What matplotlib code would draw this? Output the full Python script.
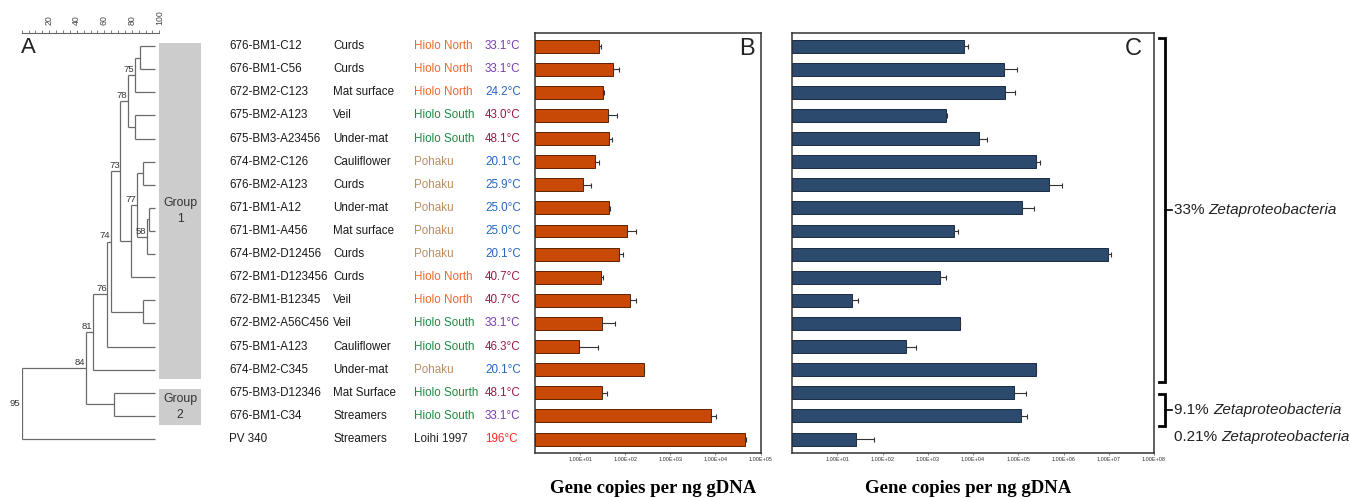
import numpy as np
import matplotlib
matplotlib.use('Agg')
import matplotlib.pyplot as plt
from matplotlib import transforms
from matplotlib.patches import Rectangle
from matplotlib.ticker import FixedLocator, MultipleLocator, FuncFormatter, NullLocator

plt.rcParams['font.family'] = ['Liberation Sans', 'DejaVu Sans']

# ---------------- data ----------------
samples = ['676-BM1-C12', '676-BM1-C56', '672-BM2-C123', '675-BM2-A123', '675-BM3-A23456',
           '674-BM2-C126', '676-BM2-A123', '671-BM1-A12', '671-BM1-A456', '674-BM2-D12456',
           '672-BM1-D123456', '672-BM1-B12345', '672-BM2-A56C456', '675-BM1-A123', '674-BM2-C345',
           '675-BM3-D12346', '676-BM1-C34', 'PV 340']
materials = ['Curds', 'Curds', 'Mat surface', 'Veil', 'Under-mat', 'Cauliflower', 'Curds',
             'Under-mat', 'Mat surface', 'Curds', 'Curds', 'Veil', 'Veil', 'Cauliflower',
             'Under-mat', 'Mat Surface', 'Streamers', 'Streamers']
locations = ['Hiolo North', 'Hiolo North', 'Hiolo North', 'Hiolo South', 'Hiolo South', 'Pohaku',
             'Pohaku', 'Pohaku', 'Pohaku', 'Pohaku', 'Hiolo North', 'Hiolo North', 'Hiolo South',
             'Hiolo South', 'Pohaku', 'Hiolo Sourth', 'Hiolo South', 'Loihi 1997']
temps = ['33.1°C', '33.1°C', '24.2°C', '43.0°C', '48.1°C', '20.1°C', '25.9°C', '25.0°C',
         '25.0°C', '20.1°C', '40.7°C', '40.7°C', '33.1°C', '46.3°C', '20.1°C', '48.1°C',
         '33.1°C', '196°C']

# Panel B (gene copies per ng gDNA) mean and upper error
b_mean = [25.7, 55, 31.6, 40.7, 43.7, 21.9, 11.5, 43.7, 110, 74, 29.5, 129, 30.2, 9.3,
          263, 30.9, 7943, 44668]
b_err = [3.1, 19, 2.3, 24, 6.4, 4.4, 6.3, 3.1, 64, 15, 2.1, 45, 30, 15.8, 2, 8, 2300, 2100]

# Panel C
c_mean = [6310, 48978, 51286, 2512, 13490, 245470, 467735, 120226, 3715, 9.77e6, 1820, 21.4,
          5129, 331, 245470, 79433, 117490, 25.7]
c_err = [1630, 46500, 31900, 120, 6900, 63600, 444000, 103600, 960, 1.7e6, 690, 6.8, 120,
         206, 0, 68500, 41000, 39]

b_ticks = [1e1, 1e2, 1e3, 1e4, 1e5]
c_ticks = [1e1, 1e2, 1e3, 1e4, 1e5, 1e6, 1e7, 1e8]

# Dendrogram: (node, child1, child2, similarity %, bootstrap label); ints = leaf rows
leaf_similarity = 97
dendro_nodes = [
    ('H', 7, 8, 92.7, ''),
    ('A', 0, 1, 86.0, ''),
    ('B', 'A', 2, 82.3, '75'),
    ('P', 3, 4, 82.3, ''),
    ('C', 'B', 'P', 77.0, '78'),
    ('I', 5, 6, 88.4, ''),
    ('G', 'H', 9, 90.8, '58'),
    ('F', 'I', 'G', 84.0, '77'),
    ('E', 'F', 10, 79.2, ''),
    ('D', 'C', 'E', 71.8, '73'),
    ('L', 11, 12, 87.9, ''),
    ('J', 'D', 'L', 64.7, '74'),
    ('K', 'J', 13, 62.3, '76'),
    ('M', 'K', 14, 52.0, '81'),
    ('O', 15, 16, 67.3, ''),
    ('N', 'M', 'O', 46.7, '84'),
    ('R', 'N', 17, 0.0, '95'),
]
scale_ticks = [20, 40, 60, 80, 100]

groups = [('Group\n1', 0, 14), ('Group\n2', 15, 16)]
brackets = [('33% ', 0, 14), ('9.1% ', 15, 16)]
single_note = ('0.21% ', 17)

# ---------------- styling ----------------
loc_colors = {'Hiolo North': '#F0692A', 'Hiolo South': '#1E8A40', 'Hiolo Sourth': '#1E8A40',
              'Pohaku': '#BC8E5E', 'Loihi 1997': '#222222'}
temp_colors = {'33.1°C': '#7A3DB0', '24.2°C': '#2566C2', '43.0°C': '#9A1C44',
               '48.1°C': '#9A1C44', '20.1°C': '#2566C2', '25.9°C': '#2566C2',
               '25.0°C': '#2566C2', '40.7°C': '#9A1C44', '46.3°C': '#9A1C44',
               '196°C': '#FF2A2A'}

W, H = 1350, 498
fig = plt.figure(figsize=(W / 100, H / 100), dpi=100)


def px_axes(x0, x1, y0, y1):
    return fig.add_axes([x0 / W, 1 - y1 / H, (x1 - x0) / W, (y1 - y0) / H])


n = len(samples)
rows = np.arange(n)
ylim = (n - 1 + 0.59, -0.58)

axA = px_axes(21.7, 159.3, 32.7, 452.7)
axB = px_axes(535, 760.5, 32.7, 452.7)
axC = px_axes(792, 1154, 32.7, 452.7)

# ---------------- dendrogram ----------------
pos = {}
for i in range(n):
    pos[i] = (leaf_similarity, float(i))
line_kw = dict(color='#6a6a6a', lw=0.9, solid_capstyle='butt')
for name, c1, c2, sim, lbl in dendro_nodes:
    x1, y1 = pos[c1]
    x2, y2 = pos[c2]
    axA.plot([sim, sim], [y1, y2], **line_kw)
    axA.plot([sim, x1], [y1, y1], **line_kw)
    axA.plot([sim, x2], [y2, y2], **line_kw)
    ym = (y1 + y2) / 2
    pos[name] = (sim, ym)
    if lbl:
        if name == 'R':
            axA.text(sim - 1.5, ym, lbl, ha='right', va='center', fontsize=6.8, color='#333333')
        else:
            axA.text(sim - 0.6, ym - 0.05, lbl, ha='right', va='bottom', fontsize=6.8,
                     color='#333333')

axA.set_xlim(0, 100)
axA.set_ylim(*ylim)
for s in ['left', 'right', 'bottom']:
    axA.spines[s].set_visible(False)
axA.spines['top'].set_color('#666666')
axA.spines['top'].set_linewidth(0.8)
axA.xaxis.set_ticks_position('top')
axA.xaxis.set_major_locator(FixedLocator(scale_ticks))
axA.xaxis.set_minor_locator(MultipleLocator(5))
axA.tick_params(axis='x', which='both', direction='out', length=2.2, width=0.6,
                color='#666666', labelsize=6.3, labelcolor='#444444', pad=3.5,
                labelrotation=90)
axA.set_yticks([])
axA.patch.set_visible(False)
axA.text(-0.5, 0.05, 'A', fontsize=16, color='#222222', ha='left', va='center')

for label, r0, r1 in groups:
    axA.add_patch(Rectangle((100, r0 - 0.15), 30.3, (r1 - r0) + 0.55, facecolor='#CCCCCC',
                            edgecolor='none', clip_on=False))
    axA.text(115.2, (r0 + r1) / 2 + 0.12, label, ha='center', va='center', fontsize=8.8,
             color='#333333', linespacing=1.45, clip_on=False)

# ---------------- text columns ----------------
tr = transforms.blended_transform_factory(fig.transFigure, axB.transData)
fs = 8.4
for i in range(n):
    fig.text(229 / W, i, samples[i], transform=tr, ha='left', va='center', fontsize=fs,
             color='#1a1a1a')
    fig.text(333 / W, i, materials[i], transform=tr, ha='left', va='center', fontsize=fs,
             color='#1a1a1a')
    fig.text(414 / W, i, locations[i], transform=tr, ha='left', va='center', fontsize=fs,
             color=loc_colors[locations[i]])
    fig.text(485 / W, i, temps[i], transform=tr, ha='left', va='center', fontsize=fs,
             color=temp_colors[temps[i]])


# ---------------- bar panels ----------------
def fmt(v, p):
    e = int(round(np.log10(v)))
    return '1.00E+%02d' % e


def bar_panel(ax, mean, err, color, edge, ticks, xmax, letter, letter_x):
    mean = np.asarray(mean, float)
    err = np.asarray(err, float)
    ax.set_xscale('log')
    ax.barh(rows, mean - 1, left=1, height=0.56, color=color, edgecolor=edge, linewidth=0.7,
            xerr=[np.zeros(n), err],
            error_kw=dict(ecolor='#333333', elinewidth=0.8, capsize=1.8, capthick=0.8))
    ax.set_xlim(1, xmax)
    ax.set_ylim(*ylim)
    ax.set_yticks([])
    ax.xaxis.set_major_locator(FixedLocator(ticks))
    ax.xaxis.set_minor_locator(NullLocator())
    ax.xaxis.set_major_formatter(FuncFormatter(fmt))
    ax.tick_params(axis='x', length=1.5, width=0.5, color='#555555', labelsize=4,
                   labelcolor='#333333', pad=1.5)
    for s in ax.spines.values():
        s.set_color('#333333')
        s.set_linewidth(1.1)
    ax.text(letter_x, 0.987, letter, transform=ax.transAxes, ha='right', va='top',
            fontsize=17, color='#222222')


bar_panel(axB, b_mean, b_err, '#C84906', '#5e2300', b_ticks, 1e5, 'B', 0.976)
bar_panel(axC, c_mean, c_err, '#2C4A6E', '#1a2b42', c_ticks, 1e8, 'C', 0.967)

serif = ['Liberation Serif', 'DejaVu Serif']
fig.text(653 / W, 1 - 488 / H, 'Gene copies per ng gDNA', ha='center', va='center',
         fontsize=13.5, fontweight='bold', family=serif)
fig.text(968 / W, 1 - 488 / H, 'Gene copies per ng gDNA', ha='center', va='center',
         fontsize=13.5, fontweight='bold', family=serif)

# ---------------- brackets & annotations ----------------
trC = transforms.blended_transform_factory(fig.transFigure, axC.transData)
bx = 1164.5 / W
hook = 5.5 / W
tick = 7.5 / W
text_x = 1174 / W


def annot(pct, y):
    t1 = fig.text(text_x, y, pct, transform=trC, ha='left', va='center', fontsize=11,
                  color='#222222')
    fig.canvas.draw()
    bb = t1.get_window_extent()
    fig.text(bb.x1 / W, y, 'Zetaproteobacteria', transform=trC, ha='left', va='center',
             fontsize=11, style='italic', color='#222222')


pads = [(-0.33, 0.53), (0.03, 0.45)]
for (pct, r0, r1), (pt, pb) in zip(brackets, pads):
    ytop, ybot = r0 + pt, r1 + pb
    ymid = (ytop + ybot) / 2
    fig.lines.append(plt.Line2D([bx - hook, bx, bx, bx - hook], [ytop, ytop, ybot, ybot],
                                transform=trC, color='black', lw=2.0,
                                solid_joinstyle='miter'))
    fig.lines.append(plt.Line2D([bx, bx + tick], [ymid, ymid], transform=trC, color='black',
                                lw=1.2))
    annot(pct, ymid)
annot(single_note[0], single_note[1] - 0.1)

fig.savefig('out.png', dpi=100)
